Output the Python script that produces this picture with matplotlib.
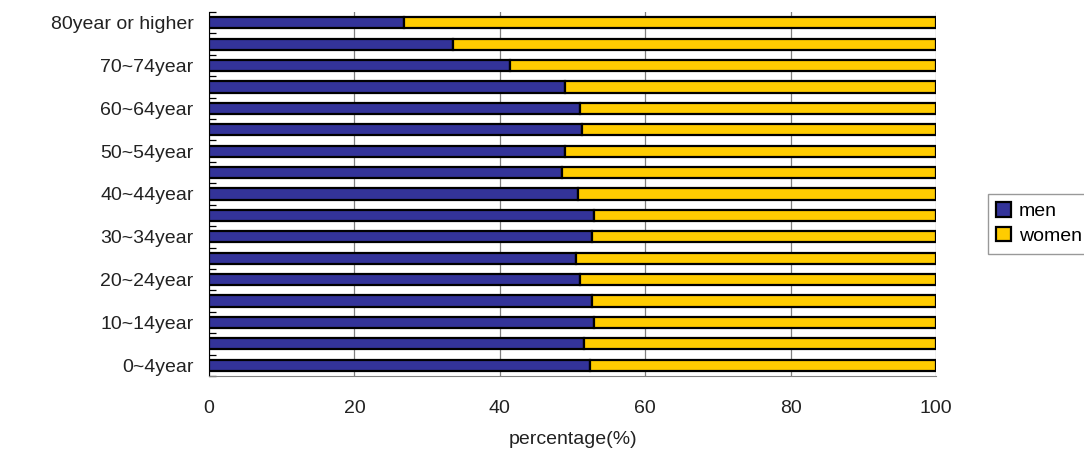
import matplotlib
matplotlib.use('Agg')
import matplotlib.pyplot as plt
import numpy as np

# age groups, bottom to top
AGE_GROUPS = ['0~4year', '5~9year', '10~14year', '15~19year', '20~24year',
              '25~29year', '30~34year', '35~39year', '40~44year', '45~49year',
              '50~54year', '55~59year', '60~64year', '65~69year', '70~74year',
              '75~79year', '80year or higher']
MEN = [52.4, 51.6, 53.0, 52.7, 51.1, 50.5, 52.7, 53.0, 50.8, 48.6,
       48.9, 51.3, 51.1, 48.9, 41.4, 33.5, 26.8]
WOMEN = [100 - m for m in MEN]
XTICKS = [0, 20, 40, 60, 80, 100]

MEN_C = '#333399'
WOMEN_C = '#FFCC00'

plt.rcParams['font.family'] = ['Liberation Sans', 'DejaVu Sans']

fig = plt.figure(figsize=(10.84, 4.55), dpi=100)
ax = fig.add_axes([209/1084, 1 - 376/455, (936 - 209)/1084, (376 - 12)/455])

y = np.arange(len(AGE_GROUPS))
ax.barh(y, MEN, height=0.52, color=MEN_C, edgecolor='black', lw=1.6,
        label='men', zorder=3)
ax.barh(y, WOMEN, left=MEN, height=0.52, color=WOMEN_C, edgecolor='black',
        lw=1.6, label='women', zorder=3)

ax.set_xlim(0, 100)
ax.set_ylim(-0.5, len(AGE_GROUPS) - 0.5)

# only every other label shown
ax.set_yticks(y)
ax.set_yticklabels([lab if i % 2 == 0 else '' for i, lab in enumerate(AGE_GROUPS)],
                   fontsize=14, color='#222222')
ax.set_yticks(np.arange(-0.5, len(AGE_GROUPS)), minor=True)
ax.tick_params(axis='y', which='major', length=0, pad=11)
ax.tick_params(axis='y', which='minor', direction='in', length=5,
               width=0.9, color='black')

ax.set_xticks(XTICKS)
ax.tick_params(axis='x', length=0, pad=17, labelsize=14, labelcolor='#222222')
ax.set_xlabel('percentage(%)', fontsize=14, color='#222222', labelpad=10)

ax.grid(axis='x', color='#808080', lw=0.9, zorder=0)
for s in ['top', 'right']:
    ax.spines[s].set_visible(False)
ax.spines['left'].set_color('black')
ax.spines['bottom'].set_color('#808080')

fig.legend(loc='upper left', bbox_to_anchor=(978/1084, 1 - 184/455),
           frameon=True, fancybox=False, edgecolor='#808080', fontsize=14,
           handlelength=0.75, handleheight=0.75, handletextpad=0.4,
           borderpad=0.45, labelspacing=0.35)

fig.savefig('out.png', dpi=100)
